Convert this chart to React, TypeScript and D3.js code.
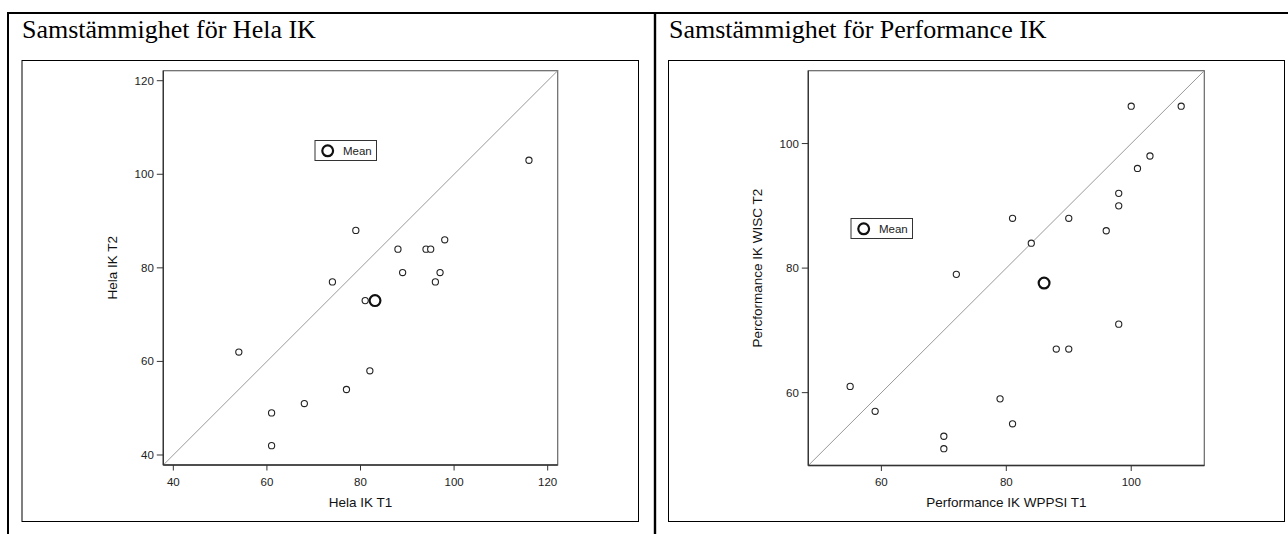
import React from "react";
import * as d3 from "d3";

// ---- data ----
const leftT1 = [54, 61, 61, 68, 74, 77, 79, 81, 82, 88, 89, 94, 95, 96, 97, 98, 116];
const leftT2 = [62, 49, 42, 51, 77, 54, 88, 73, 58, 84, 79, 84, 84, 77, 79, 86, 103];
const leftMean = [83.1, 73];
const leftTicks = [40, 60, 80, 100, 120];
const leftDomain = [37.86, 122.14];

const rightT1 = [55, 59, 70, 70, 72, 79, 81, 81, 84, 88, 90, 90, 96, 98, 98, 98, 100, 101, 103, 108];
const rightT2 = [61, 57, 53, 51, 79, 59, 55, 88, 84, 67, 67, 88, 86, 71, 90, 92, 106, 96, 98, 106];
const rightMean = [86.05, 77.6];
const rightTicks = [60, 80, 100];
const rightDomain = [48.3, 111.7];

const SANS = "'Liberation Sans', Arial, sans-serif";
const SERIF = "'Liberation Serif', 'Times New Roman', serif";

type PanelProps = {
  xs: number[];
  ys: number[];
  mean: number[];
  ticks: number[];
  domain: number[];
  px0: number;
  px1: number;
  py0: number;
  py1: number;
  xTitle: string;
  yTitle: string;
  legendX: number;
  legendY: number;
};

function Panel(p: PanelProps) {
  const x = d3.scaleLinear().domain(p.domain).range([p.px0, p.px1]);
  const y = d3.scaleLinear().domain(p.domain).range([p.py1, p.py0]);
  const line = d3.line<number>()((p.domain.map((d) => [x(d), y(d)]) as any));
  return (
    <g>
      {/* plot box */}
      <rect x={p.px0} y={p.py0} width={p.px1 - p.px0} height={p.py1 - p.py0} fill="none" stroke="#666" strokeWidth={1.2} />
      {/* identity line */}
      <path d={line || ""} stroke="#999" strokeWidth={1} fill="none" />
      {/* axes */}
      <line x1={p.px0} x2={p.px0} y1={p.py0} y2={p.py1} stroke="#333" strokeWidth={1.3} />
      <line x1={p.px0} x2={p.px1} y1={p.py1} y2={p.py1} stroke="#333" strokeWidth={1.3} />
      {p.ticks.map((t) => (
        <g key={"x" + t}>
          <line x1={x(t)} x2={x(t)} y1={p.py1} y2={p.py1 + 5.5} stroke="#333" strokeWidth={1} />
          <text x={x(t)} y={p.py1 + 20.5} textAnchor="middle" fontFamily={SANS} fontSize={11.5} fill="#222">{t}</text>
        </g>
      ))}
      {p.ticks.map((t) => (
        <g key={"y" + t}>
          <line x1={p.px0 - 6.5} x2={p.px0} y1={y(t)} y2={y(t)} stroke="#333" strokeWidth={1} />
          <text x={p.px0 - 9.5} y={y(t) + 4} textAnchor="end" fontFamily={SANS} fontSize={11.5} fill="#222">{t}</text>
        </g>
      ))}
      <text x={(p.px0 + p.px1) / 2} y={p.py1 + 41.5} textAnchor="middle" fontFamily={SANS} fontSize={13.5} fill="#111">{p.xTitle}</text>
      <text transform={`translate(${p.px0 - 46},${(p.py0 + p.py1) / 2}) rotate(-90)`} textAnchor="middle" fontFamily={SANS} fontSize={13.5} fill="#111">{p.yTitle}</text>
      {/* points */}
      {p.xs.map((v, i) => (
        <circle key={i} cx={x(v)} cy={y(p.ys[i])} r={3.1} fill="#fff" stroke="#222" strokeWidth={1.1} />
      ))}
      <circle cx={x(p.mean[0])} cy={y(p.mean[1])} r={5.4} fill="none" stroke="#111" strokeWidth={2.2} />
      {/* legend */}
      <g transform={`translate(${p.legendX},${p.legendY})`}>
        <rect x={0} y={0} width={61.5} height={20} fill="#fff" stroke="#333" strokeWidth={1} />
        <circle cx={12.7} cy={10.3} r={5.4} fill="none" stroke="#111" strokeWidth={2.2} />
        <text x={28} y={14.3} fontFamily={SANS} fontSize={11.5} fill="#222">Mean</text>
      </g>
    </g>
  );
}

export default function App() {
  return (
    <svg width={1288} height={534} style={{ position: "absolute", left: 0, top: 0, background: "#fff" }}>
      <rect x={0} y={0} width={1288} height={534} fill="#fff" />
      {/* table borders */}
      <line x1={7} x2={1288} y1={13} y2={13} stroke="#000" strokeWidth={2} />
      <line x1={8} x2={8} y1={12} y2={534} stroke="#000" strokeWidth={2} />
      <line x1={655} x2={655} y1={12} y2={534} stroke="#000" strokeWidth={2.4} />
      {/* titles */}
      <text x={22} y={38} fontFamily={SERIF} fontSize={26} fill="#000">Samstämmighet för Hela IK</text>
      <text x={669} y={38} fontFamily={SERIF} fontSize={26} fill="#000">Samstämmighet för Performance IK</text>
      {/* chart frames */}
      <rect x={22} y={60.5} width={616.5} height={461} fill="none" stroke="#000" strokeWidth={1} />
      <rect x={668.5} y={60.5} width={616} height={461} fill="none" stroke="#000" strokeWidth={1} />
      <Panel
        xs={leftT1} ys={leftT2} mean={leftMean} ticks={leftTicks} domain={leftDomain}
        px0={163.3} px1={557.7} py0={70.7} py1={465}
        xTitle="Hela IK T1" yTitle="Hela IK T2" legendX={315} legendY={140.5}
      />
      <Panel
        xs={rightT1} ys={rightT2} mean={rightMean} ticks={rightTicks} domain={rightDomain}
        px0={808.3} px1={1204.3} py0={70.7} py1={465.5}
        xTitle="Performance IK WPPSI T1" yTitle="Percformance IK WISC T2" legendX={851} legendY={218.5}
      />
    </svg>
  );
}
